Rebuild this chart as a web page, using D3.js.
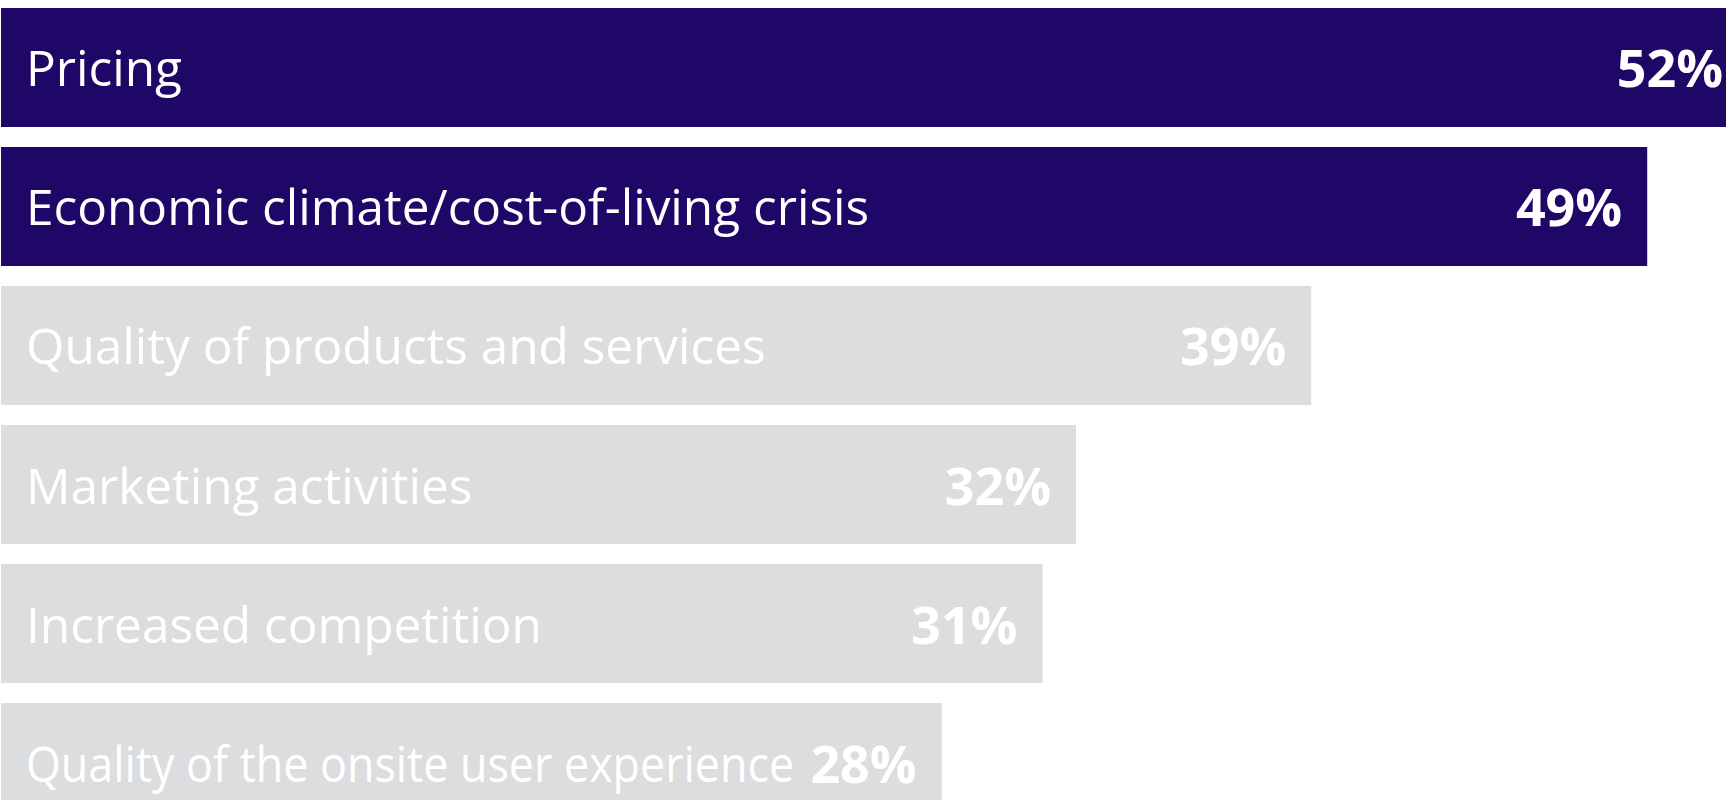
<!DOCTYPE html>
<html>
<head>
<meta charset="utf-8">
<script src="https://cdn.jsdelivr.net/npm/d3@7"></script>
<style>
  html, body { margin: 0; padding: 0; background: #ffffff; overflow: hidden; }
  svg { display: block; }
  text { font-variant-ligatures: none; }
</style>
</head>
<body>
<svg id="chart" width="1726" height="800"></svg>
<script>
// Survey answers: factors influencing purchase decisions
const categories = [
  "Pricing",
  "Economic climate/cost-of-living crisis",
  "Quality of products and services",
  "Marketing activities",
  "Increased competition",
  "Quality of the onsite user experience"
];
const shares = [52, 49, 39, 32, 31, 28];
const highlighted = [true, true, false, false, false, false];

const data = categories.map((c, i) => ({ label: c, value: shares[i], hi: highlighted[i] }));

const svg = d3.select("#chart");

const x = d3.scaleLinear().domain([0, 52]).range([1, 1748]);
const y = d3.scaleBand()
  .domain(categories)
  .range([8, 822])
  .paddingInner(0.144)
  .paddingOuter(0);

const dark = "#1f0767";
const grey = "#dcdddf";
const labelX = 26;
const fontFamily = "'Open Sans', Lato, sans-serif";

const rows = svg.selectAll("g.row")
  .data(data)
  .join("g")
  .attr("class", "row");

rows.append("rect")
  .attr("x", x(0))
  .attr("y", d => y(d.label))
  .attr("width", d => x(d.value) - x(0))
  .attr("height", y.bandwidth())
  .attr("fill", d => d.hi ? dark : grey);

const values = rows.append("text")
  .attr("class", "value")
  .attr("x", d => x(d.value) - 25)
  .attr("y", d => y(d.label) + y.bandwidth() / 2 + 20)
  .attr("text-anchor", "end")
  .attr("font-family", fontFamily)
  .attr("font-weight", 700)
  .attr("font-size", 52)
  .attr("fill", "#ffffff")
  .text(d => d.value + "%");

rows.append("text")
  .attr("class", "label")
  .attr("transform", d => `translate(${labelX},${y(d.label) + y.bandwidth() / 2 + 19})`)
  .attr("font-family", fontFamily)
  .attr("font-size", 49.5)
  .attr("fill", "#ffffff")
  .text(d => d.label)
  .each(function (d, i) {
    // narrow a label horizontally when it would run into its value
    const valueStart = values.nodes()[i].getBBox().x;
    const room = valueStart - 16 - labelX;
    const w = this.getComputedTextLength();
    if (w > room) {
      const k = room / w;
      d3.select(this).attr("transform",
        `translate(${labelX},${y(d.label) + y.bandwidth() / 2 + 19}) scale(${k},1)`);
    }
  });
</script>
</body>
</html>
